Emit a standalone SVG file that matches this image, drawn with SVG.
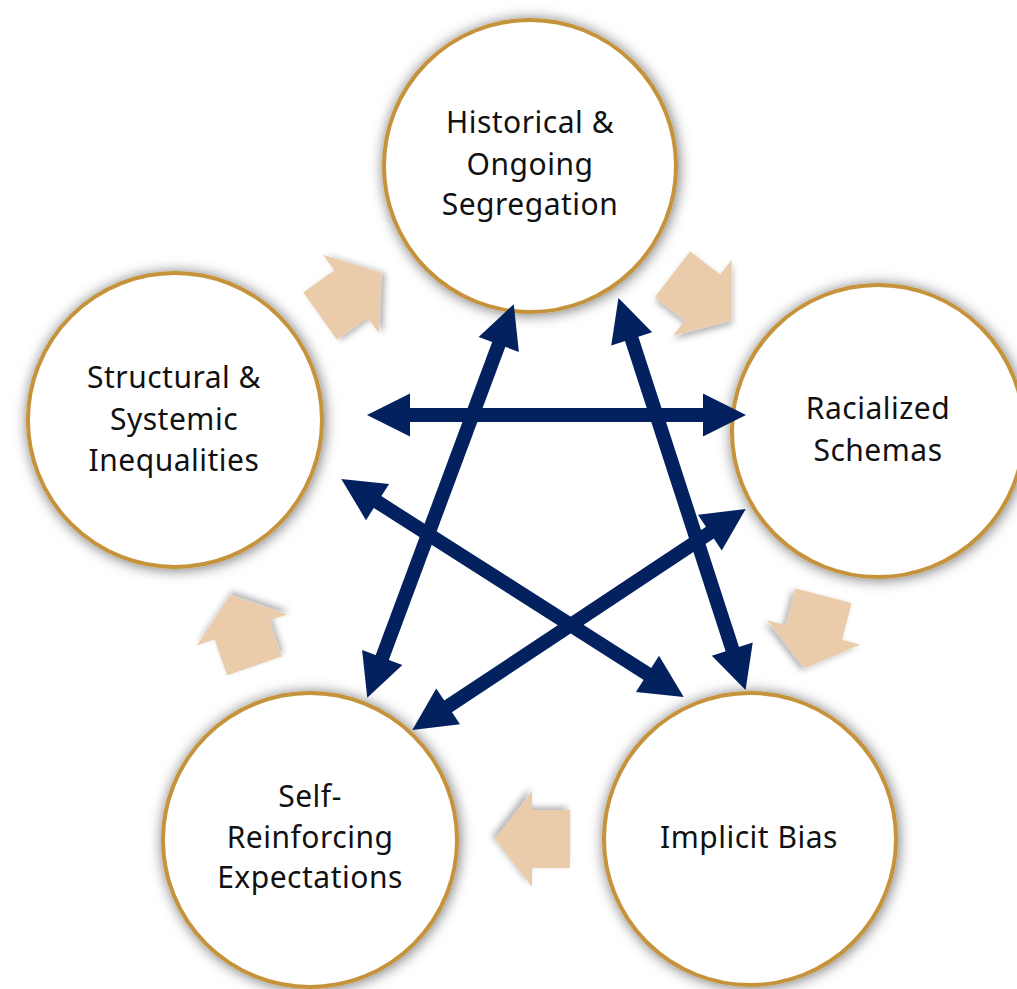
<svg xmlns="http://www.w3.org/2000/svg" width="1017" height="989" viewBox="0 0 1017 989">
  <defs>
    <style>
      .node { fill: #ffffff; stroke: #C4933A; stroke-width: 4; filter: url(#cshadow); }
      .lbl { font-family: "Noto Sans", "Open Sans", sans-serif; font-size: 30px; fill: #111111; text-anchor: middle; letter-spacing: 0.5px; }
      .cyc { fill: #EACBAA; filter: url(#ashadow); }
      .link { stroke: #03215E; stroke-width: 14; fill: none; marker-start: url(#head); marker-end: url(#head); }
    </style>
    <filter id="cshadow" x="-20%" y="-20%" width="140%" height="140%">
      <feDropShadow dx="1" dy="1" stdDeviation="7" flood-color="#000000" flood-opacity="0.55"/>
    </filter>
    <filter id="ashadow" x="-30%" y="-30%" width="160%" height="160%">
      <feDropShadow dx="3" dy="3" stdDeviation="3" flood-color="#000000" flood-opacity="0.3"/>
    </filter>
    <marker id="head" markerUnits="userSpaceOnUse" markerWidth="44" markerHeight="44" refX="1" refY="21.5" orient="auto-start-reverse" overflow="visible">
      <path d="M0,0 L43,21.5 L0,43 Z" fill="#03215E"/>
    </marker>
    <polygon id="blk" points="-38,-29 0,-29 0,-48 37,0 0,48 0,29 -38,29"/>
  </defs>
  <rect width="1017" height="989" fill="#ffffff"/>

  <g id="cycle-arrows">
    <use href="#blk" class="cyc" transform="translate(351,294) rotate(-35.4)"/>
    <use href="#blk" class="cyc" transform="translate(702.5,297.5) rotate(37.6)"/>
    <use href="#blk" class="cyc" transform="translate(814,632.5) rotate(104.6)"/>
    <use href="#blk" class="cyc" transform="translate(532,839) rotate(180)"/>
    <use href="#blk" class="cyc" transform="translate(242,630) rotate(-109)"/>
  </g>

  <g id="node-historical">
    <circle class="node" cx="530" cy="166" r="146"/>
    <text class="lbl" x="530" y="133">Historical &amp;</text>
    <text class="lbl" x="530" y="175">Ongoing</text>
    <text class="lbl" x="530" y="215">Segregation</text>
  </g>
  <g id="node-racialized">
    <circle class="node" cx="878" cy="431" r="146"/>
    <text class="lbl" x="878" y="419">Racialized</text>
    <text class="lbl" x="878" y="461">Schemas</text>
  </g>
  <g id="node-implicit">
    <circle class="node" cx="750" cy="839" r="146"/>
    <text class="lbl" x="749" y="848">Implicit Bias</text>
  </g>
  <g id="node-self">
    <circle class="node" cx="310" cy="840" r="147"/>
    <text class="lbl" x="310" y="807">Self-</text>
    <text class="lbl" x="310" y="848">Reinforcing</text>
    <text class="lbl" x="310" y="888">Expectations</text>
  </g>
  <g id="node-structural">
    <circle class="node" cx="175" cy="420" r="147"/>
    <text class="lbl" x="174" y="388">Structural &amp;</text>
    <text class="lbl" x="174" y="430">Systemic</text>
    <text class="lbl" x="174" y="471">Inequalities</text>
  </g>

  <g id="connectors">
    <line class="link" x1="409" y1="415" x2="704" y2="415"/>
    <line class="link" x1="499.1" y1="343.5" x2="381.9" y2="658.5"/>
    <line class="link" x1="631.4" y1="338" x2="732.6" y2="650"/>
    <line class="link" x1="376.7" y1="501.5" x2="648.3" y2="674.5"/>
    <line class="link" x1="710.7" y1="532.1" x2="447.3" y2="706.9"/>
  </g>
</svg>
